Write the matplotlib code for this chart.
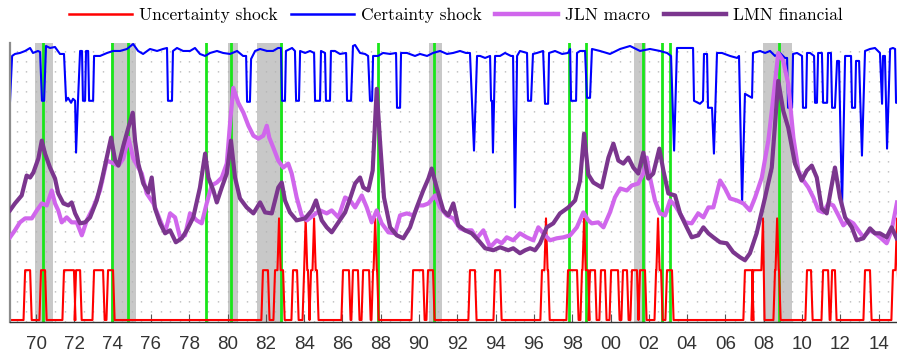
import numpy as np
import matplotlib.pyplot as plt
from matplotlib.lines import Line2D
from matplotlib.ticker import MultipleLocator

# ------------------------------
# Data (index units, arbitrary vertical scale)
# ------------------------------
recession_start = [1969.92, 1973.92, 1980.00, 1981.54, 1990.54, 2001.21, 2007.96]
recession_end = [1970.87, 1975.21, 1980.54, 1982.88, 1991.21, 2001.87, 2009.46]

event_dates = [1970.38, 1973.95, 1974.79, 1978.88, 1980.18, 1982.79, 1987.84,
               1990.80, 1997.85, 1998.70, 2001.70, 2002.69, 2003.09, 2008.78]

# uncertainty shock episodes (one shock) and months with two shocks
red_start = [1969.43, 1970.26, 1971.46, 1972.09, 1973.03, 1973.76, 1981.85, 1982.48,
             1983.42, 1984.00, 1984.36, 1986.03, 1986.55, 1987.08, 1987.60, 1989.69,
             1990.47, 1992.66, 1993.97, 1996.42, 1997.78, 1998.51, 1998.93, 1999.50,
             2000.03, 2000.65, 2001.12, 2001.54, 2002.38, 2002.95, 2007.02, 2007.44,
             2008.59, 2010.26, 2011.10, 2011.57, 2013.29, 2014.75]
red_end = [1969.69, 1970.47, 1971.98, 1972.30, 1973.50, 1974.02, 1982.11, 1982.90,
           1983.63, 1984.20, 1984.67, 1986.34, 1986.81, 1987.39, 1987.81, 1990.21,
           1990.73, 1992.92, 1994.23, 1996.74, 1998.25, 1998.83, 1999.19, 1999.71,
           2000.39, 2000.86, 2001.38, 2001.80, 2002.64, 2003.21, 2007.39, 2007.96,
           2008.80, 2010.47, 2011.36, 2011.72, 2013.55, 2015.00]
red_peak = [1982.69, 1984.08, 1984.52, 1987.71, 1996.63, 1998.62, 2002.48,
            2007.96, 2008.70, 2014.96]
red_base, red_one, red_two = 1.0, 26.0, 52.0

blue_year = [1968.64, 1968.75, 1968.90, 1969.16, 1969.43, 1969.69, 1969.84, 1970.10, 1970.21,
             1970.31, 1970.42, 1970.52, 1970.73, 1970.99, 1971.25, 1971.46,
             1971.57, 1971.67, 1971.83, 1971.93, 1972.04, 1972.09, 1972.19, 1972.30, 1972.40,
             1972.45, 1972.56, 1972.61, 1972.72, 1972.77, 1972.98, 1973.03,
             1973.34, 1973.71, 1974.02, 1974.39, 1974.75, 1975.07, 1975.33, 1975.59, 1975.95,
             1976.32, 1976.63, 1976.84, 1976.89, 1977.10, 1977.15,
             1977.36, 1977.68, 1978.04, 1978.30, 1978.56, 1978.83, 1979.09, 1979.45, 1979.77,
             1980.13, 1980.50, 1980.81, 1980.97, 1981.02, 1981.17, 1981.23,
             1981.44, 1981.70, 1982.06, 1982.38, 1982.64, 1982.79, 1982.85, 1983.00, 1983.05,
             1983.26, 1983.37, 1983.52, 1983.58, 1983.73, 1983.79,
             1984.05, 1984.31, 1984.52, 1984.57, 1984.83, 1984.88,
             1985.09, 1985.14, 1985.35, 1985.40,
             1985.61, 1985.87, 1986.19, 1986.24, 1986.45, 1986.55,
             1986.66, 1986.92, 1987.18, 1987.34, 1987.44, 1987.55, 1987.60,
             1987.86, 1988.12, 1988.49, 1988.80, 1988.85, 1989.01, 1989.06,
             1989.37, 1989.79, 1990.05, 1990.42, 1990.73, 1991.10, 1991.46, 1991.78, 1992.14,
             1992.45, 1992.66, 1992.87, 1993.03,
             1993.19, 1993.45, 1993.71, 1993.76, 1993.81, 1993.86, 1993.97,
             1994.23, 1994.49, 1994.80, 1994.91, 1995.01, 1995.12,
             1995.27, 1995.64, 1995.69, 1995.85, 1995.95,
             1996.16, 1996.48, 1996.58, 1996.74, 1996.79,
             1997.10, 1997.47, 1997.78, 1997.89, 1997.94, 1998.20, 1998.25,
             1998.41, 1998.67, 1998.77, 1998.93, 1999.03,
             1999.45, 1999.97, 2000.50, 2001.02, 2001.54, 2002.06, 2002.58, 2002.95, 2003.16,
             2003.32, 2003.47,
             2003.79, 2004.15, 2004.31, 2004.36, 2004.67, 2004.83, 2004.88, 2005.04, 2005.09,
             2005.30, 2005.40, 2005.56,
             2005.82, 2006.24, 2006.61, 2006.71, 2006.87, 2007.02, 2007.39, 2007.44,
             2007.81, 2008.07, 2008.33, 2008.59, 2008.85, 2009.11, 2009.22,
             2009.27, 2009.48, 2009.53, 2009.74, 2010.00, 2010.05, 2010.21, 2010.26,
             2010.42, 2010.63, 2010.68, 2010.78, 2010.84, 2011.04, 2011.10, 2011.31, 2011.36,
             2011.51, 2011.57, 2011.72, 2011.83, 2011.93, 2012.09, 2012.25,
             2012.40, 2012.56, 2012.61, 2012.77, 2012.82, 2012.98, 2013.13, 2013.29,
             2013.55, 2013.81, 2014.07, 2014.18, 2014.23, 2014.33, 2014.44, 2014.60,
             2014.75, 2014.86, 2014.91, 2014.96]
blue_val = [110.5, 133.5, 134.5, 135, 136, 137.5, 135, 136, 135.5,
            111, 111, 138.5, 137.5, 138, 134.5, 134.5,
            111, 112.5, 110, 112, 111, 85, 111, 136, 136,
            111, 111, 136, 136, 111, 111, 133.5,
            133.5, 135, 136, 136, 137, 139.5, 136, 134.5, 137,
            136, 137, 137.5, 111, 111, 136,
            137.5, 136, 136, 137.5, 134.5, 133.5, 135, 136, 135,
            134.5, 136, 133.5, 133.5, 110.5, 110.5, 132,
            136, 137, 136, 136, 137.5, 137.5, 111, 111, 136,
            137, 137.5, 136, 111, 111, 136,
            135, 136, 135, 111, 111, 136,
            135, 111, 111, 136,
            136, 134.5, 135, 111, 111, 138.5,
            139, 135, 134.5, 133.5, 111, 111, 133.5,
            133.5, 135, 134.5, 135, 107.5, 107.5, 135,
            135, 133.5, 134.5, 133.5, 135, 136, 134.5, 135, 136,
            135, 135, 86, 133.5,
            133.5, 132.5, 133.5, 111, 111, 85, 133.5,
            133.5, 135, 133.5, 133.5, 57.5, 133.5,
            136, 135, 111, 111, 134.5,
            135, 136, 109.5, 109.5, 135,
            136, 134.5, 135, 137, 111, 111, 135,
            136, 136, 112.5, 112.5, 137,
            136, 134.5, 137, 138.5, 136, 137, 136, 135, 133.5,
            86, 137.5,
            137.5, 137.5, 137.5, 111, 109.5, 111, 134.5, 134.5, 107.5,
            107.5, 84.5, 135,
            135, 133.5, 132.5, 133.5, 59.5, 114.5, 112.5, 135,
            136, 135, 136, 133.5, 135, 132.5, 132.5,
            107.5, 107.5, 134.5, 135, 133.5, 107.5, 107.5, 135,
            135, 133.5, 110, 110, 135, 135, 110, 110, 135,
            135, 107.5, 107.5, 131, 131, 57.5, 133.5,
            133.5, 133.5, 107.5, 107.5, 131, 131, 83.5, 136,
            137, 137.5, 135, 109.5, 133.5, 133.5, 87, 137,
            137.5, 137, 110, 110]

jln_year = [1968.64, 1968.90, 1969.16, 1969.43, 1969.78, 1970.04, 1970.30, 1970.56, 1970.82,
            1970.99, 1971.16, 1971.34, 1971.60, 1971.86, 1972.13, 1972.39, 1972.65, 1972.99,
            1973.34, 1973.69, 1973.95, 1974.30, 1974.56, 1974.82, 1975.08, 1975.34, 1975.52,
            1975.78, 1976.13, 1976.48, 1976.74, 1977.00, 1977.26, 1977.52, 1977.78, 1978.04,
            1978.39, 1978.65, 1978.91, 1979.17, 1979.44, 1979.70, 1979.96, 1980.13, 1980.30,
            1980.56, 1980.83, 1981.09, 1981.35, 1981.61, 1981.87, 1982.05, 1982.18, 1982.39,
            1982.65, 1982.91, 1983.17, 1983.35, 1983.61, 1983.87, 1984.14, 1984.48, 1984.83,
            1985.18, 1985.44, 1985.79, 1986.14, 1986.40, 1986.66, 1987.01, 1987.27, 1987.53,
            1987.79, 1988.05, 1988.40, 1988.75, 1989.01, 1989.36, 1989.70, 1989.96, 1990.22,
            1990.49, 1990.84, 1991.10, 1991.45, 1991.79, 1992.14, 1992.40, 1992.75, 1993.01,
            1993.36, 1993.71, 1994.06, 1994.32, 1994.58, 1994.92, 1995.27, 1995.62, 1995.97,
            1996.23, 1996.49, 1996.84, 1997.19, 1997.54, 1997.89, 1998.24, 1998.58, 1998.84,
            1999.02, 1999.36, 1999.63, 1999.97, 2000.23, 2000.50, 2000.85, 2001.11, 2001.45,
            2001.71, 2001.89, 2002.06, 2002.32, 2002.58, 2002.85, 2003.11, 2003.37, 2003.63,
            2003.89, 2004.24, 2004.58, 2004.85, 2005.11, 2005.37, 2005.72, 2005.98, 2006.24,
            2006.59, 2006.94, 2007.28, 2007.55, 2007.90, 2008.24, 2008.50, 2008.76, 2009.02,
            2009.28, 2009.55, 2009.81, 2010.07, 2010.33, 2010.59, 2010.86, 2011.11, 2011.38,
            2011.63, 2011.90, 2012.16, 2012.42, 2012.68, 2012.94, 2013.20, 2013.55, 2013.81,
            2014.07, 2014.42, 2014.68, 2014.96]
jln_val = [42.5, 46, 50, 52, 52, 56, 59.5, 58.5, 66,
           59.5, 56, 50, 52.5, 50, 50, 43.5, 51, 57.5,
           66, 81, 80, 78.5, 82, 92.5, 82, 77.5, 74.5,
           64.5, 59.5, 51, 45, 54.5, 52.5, 42.5, 43.5, 54.5,
           51, 49.5, 59.5, 68.5, 70, 72.5, 79.5, 99.5, 117.5,
           110, 105, 98.5, 93.5, 92, 93.5, 98.5, 92.5, 87.5,
           81, 77.5, 79.5, 74.5, 62.5, 53.5, 51, 53.5, 56,
           54.5, 56, 52.5, 62.5, 61, 57.5, 63.5, 57.5, 50,
           56, 49.5, 45, 44.5, 53.5, 54.5, 53.5, 58.5, 58.5,
           59.5, 63.5, 57.5, 53.5, 52, 47, 46, 46, 42,
           46, 37.5, 41, 39.5, 42.5, 41, 44.5, 42.5, 41,
           47.5, 44.5, 41, 42, 42.5, 43.5, 47.5, 55, 51,
           49.5, 50, 47.5, 55, 62.5, 67, 66, 68.5, 69.5,
           74.5, 82.5, 72.5, 61, 54.5, 53.5, 61, 58.5, 54.5,
           50, 49.5, 54.5, 52.5, 57.5, 57.5, 71, 67, 62,
           61, 59.5, 56, 62.5, 72.5, 91, 112.5, 135, 131,
           119.5, 92.5, 76, 71, 67.5, 62.5, 56, 55, 59.5,
           58.5, 53.5, 48.5, 51, 49.5, 46, 42.5, 46, 44.5,
           42.5, 39.5, 46, 60]

lmn_year = [1968.64, 1968.90, 1969.25, 1969.51, 1969.69, 1969.86, 1970.12, 1970.30, 1970.47,
            1970.73, 1970.99, 1971.16, 1971.43, 1971.69, 1971.86, 1972.04, 1972.30, 1972.56,
            1972.82, 1973.17, 1973.43, 1973.69, 1973.92, 1974.13, 1974.30, 1974.56, 1974.82,
            1975.05, 1975.17, 1975.34, 1975.60, 1975.86, 1976.04, 1976.21, 1976.48, 1976.74,
            1977.00, 1977.30, 1977.61, 1977.87, 1978.21, 1978.56, 1978.83, 1979.00, 1979.26,
            1979.44, 1979.70, 1979.96, 1980.18, 1980.39, 1980.65, 1981.00, 1981.35, 1981.70,
            1981.96, 1982.31, 1982.65, 1982.83, 1983.00, 1983.26, 1983.61, 1984.05, 1984.40,
            1984.62, 1984.92, 1985.18, 1985.44, 1985.79, 1986.14, 1986.40, 1986.66, 1986.92,
            1987.09, 1987.35, 1987.58, 1987.79, 1987.96, 1988.17, 1988.49, 1988.84, 1989.18,
            1989.53, 1989.88, 1990.22, 1990.49, 1990.66, 1990.92, 1991.27, 1991.53, 1991.79,
            1992.05, 1992.40, 1992.75, 1993.10, 1993.45, 1993.88, 1994.23, 1994.66, 1994.92,
            1995.27, 1995.54, 1995.80, 1996.06, 1996.32, 1996.67, 1997.01, 1997.36, 1997.80,
            1998.15, 1998.41, 1998.62, 1998.84, 1999.10, 1999.54, 1999.89, 2000.15, 2000.41,
            2000.67, 2000.93, 2001.19, 2001.45, 2001.71, 2001.97, 2002.23, 2002.55, 2002.76,
            2003.02, 2003.37, 2003.63, 2003.98, 2004.24, 2004.58, 2004.85, 2005.11, 2005.37,
            2005.72, 2006.07, 2006.41, 2006.76, 2007.02, 2007.28, 2007.63, 2008.07, 2008.42,
            2008.76, 2009.02, 2009.28, 2009.63, 2009.98, 2010.25, 2010.51, 2010.77, 2011.03,
            2011.29, 2011.50, 2011.72, 2011.98, 2012.25, 2012.60, 2012.86, 2013.20, 2013.55,
            2013.81, 2014.07, 2014.42, 2014.68, 2014.94]
lmn_val = [56, 59.5, 63.5, 73.5, 72.5, 75, 82, 91, 84.5,
           77.5, 72, 64.5, 59.5, 58.5, 60, 54.5, 49.5, 50,
           52.5, 61, 71, 82.5, 92.5, 81, 78.5, 88.5, 97.5,
           105, 91, 79.5, 69.5, 65, 72.5, 57, 49.5, 44.5,
           46, 40, 42, 46, 52.5, 67.5, 84.5, 72.5, 66,
           60, 67.5, 74.5, 91, 72.5, 62, 57.5, 54.5, 60,
           55, 54.5, 67.5, 70, 61, 55, 51, 52, 56,
           61, 51, 47.5, 45, 50, 55, 62, 69.5, 72.5,
           67.5, 66, 76, 117, 91, 62.5, 47.5, 43.5, 42,
           47.5, 57.5, 66, 72, 77, 67.5, 56, 53.5, 59.5,
           48.5, 46, 44.5, 41, 37, 36, 37.5, 36, 37,
           34.5, 36, 37, 36, 39.5, 47.5, 49.5, 54.5, 57.5,
           61, 71, 94.5, 74, 70, 67.5, 82.5, 89.5, 81,
           79.5, 82.5, 77.5, 74.5, 85, 72, 74.5, 87, 76,
           64.5, 63.5, 54.5, 47.5, 42.5, 43.5, 47.5, 44.5, 42.5,
           40, 39.5, 35, 32.5, 31, 34.5, 44.5, 62.5, 77.5,
           121, 106, 97.5, 79.5, 71, 76, 78.5, 72.5, 57,
           54.5, 66, 77.5, 62.5, 52.5, 47.5, 41, 42, 47,
           44.5, 44.5, 42.5, 47.5, 42]

year_labels = [f"{y % 100:02d}" for y in range(1970, 2015, 2)]

# ------------------------------
# Build the uncertainty shock step line from the episodes
# ------------------------------
red_x, red_y = [blue_year[0]], [red_base]
for s, e in zip(red_start, red_end):
    pk = [p for p in red_peak if s - 0.01 <= p <= e + 0.01]
    red_x += [s - 1 / 12, s]
    red_y += [red_base, red_one]
    for p in pk:
        if p - 1 / 12 > s:
            red_x.append(p - 1 / 12); red_y.append(red_one)
        red_x.append(p); red_y.append(red_two)
        if p + 1 / 12 < e:
            red_x.append(p + 1 / 12); red_y.append(red_one)
    if not pk or pk[-1] < e - 0.01:
        red_x.append(e); red_y.append(red_one)
    red_x.append(e + 1 / 12); red_y.append(red_base)

# ------------------------------
# Plot
# ------------------------------
fig = plt.figure(figsize=(8.97, 3.56), dpi=100)
ax = fig.add_axes([10 / 897, 34 / 356, 887 / 897, 279 / 356])

for s, e in zip(recession_start, recession_end):
    ax.axvspan(s, e, color='#c8c8c8', lw=0, zorder=0.2)

for d in event_dates:
    ax.axvline(d, color='#19e619', lw=2.0, zorder=1.5)

ax.plot(red_x, red_y, color='#ff0000', lw=1.5, zorder=2)
ax.plot(blue_year, blue_val, color='#0000ff', lw=1.5, zorder=2)
ax.plot(jln_year, jln_val, color='#d066ec', lw=3.0, zorder=3)
ax.plot(lmn_year, lmn_val, color='#7b368e', lw=3.0, zorder=4)

ax.set_xlim(1968.64, 2014.96)
ax.set_ylim(0, 140)

ax.set_xticks(np.arange(1970, 2015, 2))
ax.set_xticklabels(year_labels, fontfamily='Liberation Sans', fontsize=13.5, color='#333333')
ax.xaxis.set_minor_locator(MultipleLocator(0.5))
ax.set_yticks([])
ax.tick_params(axis='x', which='major', direction='in', length=6, width=0.8,
               color='#555555', pad=10)
ax.tick_params(axis='x', which='minor', length=0)
ax.set_axisbelow(True)
ax.grid(which='both', axis='x', color='#b4b4b4', lw=1.0, linestyle=(0, (0.9, 6.3)))

for side in ['top', 'right']:
    ax.spines[side].set_visible(False)
ax.spines['left'].set_color('#8c8c8c')
ax.spines['left'].set_linewidth(1.6)
ax.spines['bottom'].set_color('#333333')
ax.spines['bottom'].set_linewidth(1.0)

handles = [Line2D([], [], color='#ff0000', lw=1.8),
           Line2D([], [], color='#0000ff', lw=1.8),
           Line2D([], [], color='#d066ec', lw=3.2),
           Line2D([], [], color='#7b368e', lw=3.2)]
names = ['Uncertainty shock', 'Certainty shock', 'JLN macro', 'LMN financial']
fig.legend(handles, names, loc='center', bbox_to_anchor=(456 / 897, 1 - 15 / 356),
           ncol=4, frameon=False, prop={'family': 'cmr10', 'size': 12.5},
           handlelength=3.6, handletextpad=0.4, columnspacing=0.8, borderpad=0)

fig.savefig('out.png', dpi=100)
